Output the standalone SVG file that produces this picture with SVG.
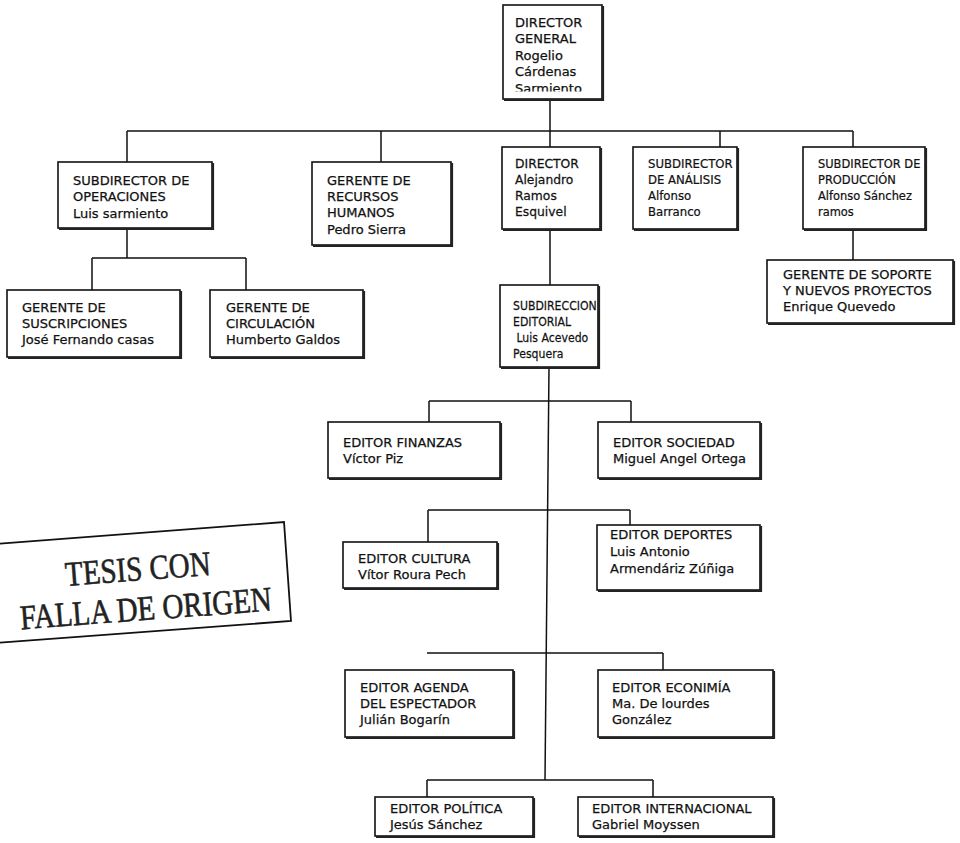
<svg xmlns="http://www.w3.org/2000/svg" width="960" height="843" viewBox="0 0 960 843">
<style>
.bx{fill:#fff;stroke:#111;stroke-width:1.6}
.sh{fill:none;stroke:#222;stroke-width:2.2}
.t{font-family:"DejaVu Sans","Liberation Sans",sans-serif;font-size:13px;fill:#111;stroke:#111;stroke-width:0.25}
.ln{fill:none;stroke:#111;stroke-width:1.5}
.st{font-family:"Liberation Serif","DejaVu Serif",serif;font-size:29px;fill:#222;stroke:#222;stroke-width:0.5}
</style>
<defs>
<clipPath id="cdg"><rect x="503" y="5" width="99" height="86.5"/></clipPath>
</defs>
<rect width="960" height="843" fill="#fff"/>
<g id="connectors" class="ln">
<path d="M550 99V131M127 131H853M127 131V162M381 131V162M550 131V147M720 131V147M853 131V147"/>
<path d="M127 228V258M92 258H246M92 258V290M246 258V290"/>
<path d="M853 229V260M550 229V285"/>
<path d="M549 367L545 780"/>
<path d="M429 401H631M429 401V422M631 401V422"/>
<path d="M428 510H630M428 510V542M630 510V525"/>
<path d="M427 653H663M663 653V670"/>
<path d="M427 780H653M427 780V797M653 780V797"/>
</g>
<g id="director-general">
<rect class="bx" x="503" y="5" width="99" height="94"/>
<path class="sh" d="M603 6V100H504"/>
<g clip-path="url(#cdg)"><text class="t"><tspan x="515" y="27">DIRECTOR</tspan><tspan x="515" y="43">GENERAL</tspan><tspan x="515" y="60">Rogelio</tspan><tspan x="515" y="76">Cárdenas</tspan><tspan x="515" y="93">Sarmiento</tspan></text></g>
</g>
<g id="sub-operaciones">
<rect class="bx" x="58" y="162" width="154" height="66"/>
<path class="sh" d="M213 163V229H59"/>
<text class="t"><tspan x="73" y="185">SUBDIRECTOR DE</tspan><tspan x="73" y="201">OPERACIONES</tspan><tspan x="73" y="218">Luis sarmiento</tspan></text>
</g>
<g id="gerente-rrhh">
<rect class="bx" x="312" y="162" width="139" height="83"/>
<path class="sh" d="M452 163V246H313"/>
<text class="t"><tspan x="327" y="185">GERENTE DE</tspan><tspan x="327" y="201">RECURSOS</tspan><tspan x="327" y="217">HUMANOS</tspan><tspan x="327" y="234">Pedro Sierra</tspan></text>
</g>
<g id="director">
<rect class="bx" x="502" y="147" width="98" height="82"/>
<path class="sh" d="M601 148V230H503"/>
<text class="t" transform="translate(515 0) scale(0.95 1)"><tspan x="0" y="168">DIRECTOR</tspan><tspan x="0" y="184">Alejandro</tspan><tspan x="0" y="200">Ramos</tspan><tspan x="0" y="216">Esquivel</tspan></text>
</g>
<g id="sub-analisis">
<rect class="bx" x="633" y="147" width="104" height="82"/>
<path class="sh" d="M738 148V230H634"/>
<text class="t" transform="translate(648 0) scale(0.9 1)"><tspan x="0" y="168">SUBDIRECTOR</tspan><tspan x="0" y="184">DE ANÁLISIS</tspan><tspan x="0" y="200">Alfonso</tspan><tspan x="0" y="216">Barranco</tspan></text>
</g>
<g id="sub-produccion">
<rect class="bx" x="803" y="147" width="122" height="82"/>
<path class="sh" d="M926 148V230H804"/>
<text class="t" transform="translate(818 0) scale(0.88 1)"><tspan x="0" y="168">SUBDIRECTOR DE</tspan><tspan x="0" y="184">PRODUCCIÓN</tspan><tspan x="0" y="200">Alfonso Sánchez</tspan><tspan x="0" y="216">ramos</tspan></text>
</g>
<g id="gerente-soporte">
<rect class="bx" x="767" y="260" width="186" height="63"/>
<path class="sh" d="M954 261V324H768"/>
<text class="t"><tspan x="783" y="279">GERENTE DE SOPORTE</tspan><tspan x="783" y="295">Y NUEVOS PROYECTOS</tspan><tspan x="783" y="311">Enrique Quevedo</tspan></text>
</g>
<g id="gerente-suscripciones">
<rect class="bx" x="7" y="290" width="173" height="67"/>
<path class="sh" d="M181 291V358H8"/>
<text class="t"><tspan x="22" y="312">GERENTE DE</tspan><tspan x="22" y="328">SUSCRIPCIONES</tspan><tspan x="22" y="344">José Fernando casas</tspan></text>
</g>
<g id="gerente-circulacion">
<rect class="bx" x="210" y="290" width="153" height="67"/>
<path class="sh" d="M364 291V358H211"/>
<text class="t"><tspan x="226" y="312">GERENTE DE</tspan><tspan x="226" y="328">CIRCULACIÓN</tspan><tspan x="226" y="344">Humberto Galdos</tspan></text>
</g>
<g id="subdireccion-editorial">
<rect class="bx" x="500" y="285" width="98" height="82"/>
<path class="sh" d="M599 286V368H501"/>
<text class="t" transform="translate(513 0) scale(0.84 1)"><tspan x="0" y="310">SUBDIRECCION</tspan><tspan x="0" y="326">EDITORIAL</tspan><tspan x="0" y="342"> Luis Acevedo</tspan><tspan x="0" y="358">Pesquera</tspan></text>
</g>
<g id="editor-finanzas">
<rect class="bx" x="328" y="422" width="172" height="56"/>
<path class="sh" d="M501 423V479H329"/>
<text class="t"><tspan x="343" y="447">EDITOR FINANZAS</tspan><tspan x="343" y="463">Víctor Piz</tspan></text>
</g>
<g id="editor-sociedad">
<rect class="bx" x="598" y="422" width="162" height="56"/>
<path class="sh" d="M761 423V479H599"/>
<text class="t"><tspan x="613" y="447">EDITOR SOCIEDAD</tspan><tspan x="613" y="463">Miguel Angel Ortega</tspan></text>
</g>
<g id="editor-cultura">
<rect class="bx" x="343" y="542" width="154" height="46"/>
<path class="sh" d="M498 543V589H344"/>
<text class="t"><tspan x="358" y="563">EDITOR CULTURA</tspan><tspan x="358" y="579">Vítor Roura Pech</tspan></text>
</g>
<g id="editor-deportes">
<rect class="bx" x="597" y="525" width="163" height="65"/>
<path class="sh" d="M761 526V591H598"/>
<text class="t"><tspan x="610" y="539">EDITOR DEPORTES</tspan><tspan x="610" y="556">Luis Antonio</tspan><tspan x="610" y="573">Armendáriz Zúñiga</tspan></text>
</g>
<g id="editor-agenda">
<rect class="bx" x="345" y="670" width="168" height="67"/>
<path class="sh" d="M514 671V738H346"/>
<text class="t"><tspan x="360" y="692">EDITOR AGENDA</tspan><tspan x="360" y="708">DEL ESPECTADOR</tspan><tspan x="360" y="724">Julián Bogarín</tspan></text>
</g>
<g id="editor-economia">
<rect class="bx" x="598" y="670" width="175" height="67"/>
<path class="sh" d="M774 671V738H599"/>
<text class="t"><tspan x="612" y="692">EDITOR ECONIMÍA</tspan><tspan x="612" y="708">Ma. De lourdes</tspan><tspan x="612" y="724">González</tspan></text>
</g>
<g id="editor-politica">
<rect class="bx" x="375" y="797" width="158" height="39"/>
<path class="sh" d="M534 798V837H376"/>
<text class="t"><tspan x="390" y="813">EDITOR POLÍTICA</tspan><tspan x="390" y="829">Jesús Sánchez</tspan></text>
</g>
<g id="editor-internacional">
<rect class="bx" x="578" y="797" width="195" height="39"/>
<path class="sh" d="M774 798V837H579"/>
<text class="t"><tspan x="592" y="813">EDITOR INTERNACIONAL</tspan><tspan x="592" y="829">Gabriel Moyssen</tspan></text>
</g>
<g id="stamp">
<path d="M-5 544L284 522L291 621L-5 643" fill="none" stroke="#111" stroke-width="1.8"/>
<g transform="rotate(-4.3 145 598)">
<text class="st" transform="translate(140 580) scale(1 1.2)" text-anchor="middle">TESIS CON</text>
<text class="st" transform="translate(145 620) scale(1 1.2)" text-anchor="middle">FALLA DE ORIGEN</text>
</g>
</g>
</svg>
